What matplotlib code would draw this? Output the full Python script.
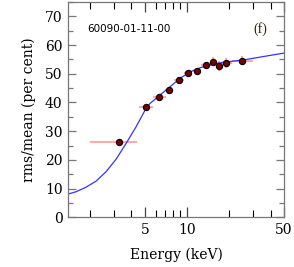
import numpy as np
import matplotlib
matplotlib.use("Agg")
import matplotlib.pyplot as plt
from matplotlib.ticker import FixedLocator, NullFormatter, MultipleLocator

# data points
energy = [3.23, 5.1, 6.36, 7.5, 8.8, 10.2, 11.8, 13.8, 15.5, 17.1, 19.2, 25.1]
e_lo = [2.0, 4.5, 5.7, 7.0, 8.1, 9.5, 11.0, 12.6, 15.0, 16.2, 17.6, 21.0]
e_hi = [4.4, 5.7, 7.1, 8.0, 9.5, 10.9, 12.6, 15.0, 16.0, 18.0, 21.0, 30.0]
rms = [26.1, 38.5, 42.0, 44.4, 47.9, 50.4, 51.1, 53.2, 54.2, 52.7, 53.8, 54.6]
rms_err = [0.4, 0.8, 0.9, 0.9, 1.0, 1.0, 1.0, 1.0, 1.6, 1.8, 1.8, 1.6]

# model curve
model_e = [1.40, 1.60, 1.89, 2.23, 2.63, 3.10, 3.67, 4.33, 5.10, 5.45, 6.43,
           7.59, 8.95, 10.6, 12.5, 14.7, 18.3, 25.5, 35.5, 50.0]
model_v = [8.1, 8.9, 10.5, 12.6, 15.9, 20.2, 25.8, 31.6, 38.0, 39.7, 42.6,
           45.5, 48.4, 50.7, 52.1, 53.1, 54.0, 54.8, 56.0, 57.2]

plt.rcParams['font.family'] = ['DejaVu Serif']

fig = plt.figure(figsize=(2.94, 2.67), dpi=100)
ax = fig.add_axes([68/294, 1 - 217.3/267, (284-68)/294, (217.3-2)/267])

ax.plot(model_e, model_v, color='#3333ff', lw=0.9, zorder=2)

xerr = [np.array(energy) - np.array(e_lo), np.array(e_hi) - np.array(energy)]
ax.errorbar(energy, rms, xerr=xerr, yerr=rms_err, fmt='none',
            ecolor='#ff9999', elinewidth=1.2, capsize=0, zorder=1)
ax.plot(energy, rms, 'o', ms=4.5, mfc='#7a0000', mec='black', mew=0.8, zorder=3)

ax.set_xscale('log')
ax.set_xlim(1.4, 50)
ax.set_ylim(0, 75)

ax.xaxis.set_major_locator(FixedLocator([5, 10, 50]))
ax.xaxis.set_minor_locator(FixedLocator([2, 3, 4, 6, 7, 8, 9, 20, 30, 40]))
ax.xaxis.set_minor_formatter(NullFormatter())
ax.set_xticklabels(['5', '10', '50'])
ax.yaxis.set_major_locator(MultipleLocator(10))
ax.yaxis.set_minor_locator(MultipleLocator(5))

gray = '#777777'
for s in ax.spines.values():
    s.set_color(gray)
    s.set_linewidth(0.9)
ax.tick_params(which='both', direction='in', top=True, right=True, color=gray,
               labelsize=10, pad=4)
ax.tick_params(which='major', length=6, width=0.9)
ax.tick_params(which='minor', length=3.5, width=0.9)
ax.tick_params(axis='x', which='minor', length=5, color='black', width=0.8)
ax.tick_params(axis='x', which='major', length=7, color='#444444')

ax.set_xlabel('Energy (keV)', fontsize=10, labelpad=8)
ax.set_ylabel('rms/mean (per cent)', fontsize=10, labelpad=6)

ax.text(0.09, 0.875, '60090-01-11-00', transform=ax.transAxes, fontsize=7.5,
        family='DejaVu Sans', ha='left', va='center')
ax.text(0.86, 0.875, '(f)', transform=ax.transAxes, fontsize=10,
        family='Liberation Serif', color='#332200', ha='left', va='center')

fig.savefig('out.png', dpi=100)
